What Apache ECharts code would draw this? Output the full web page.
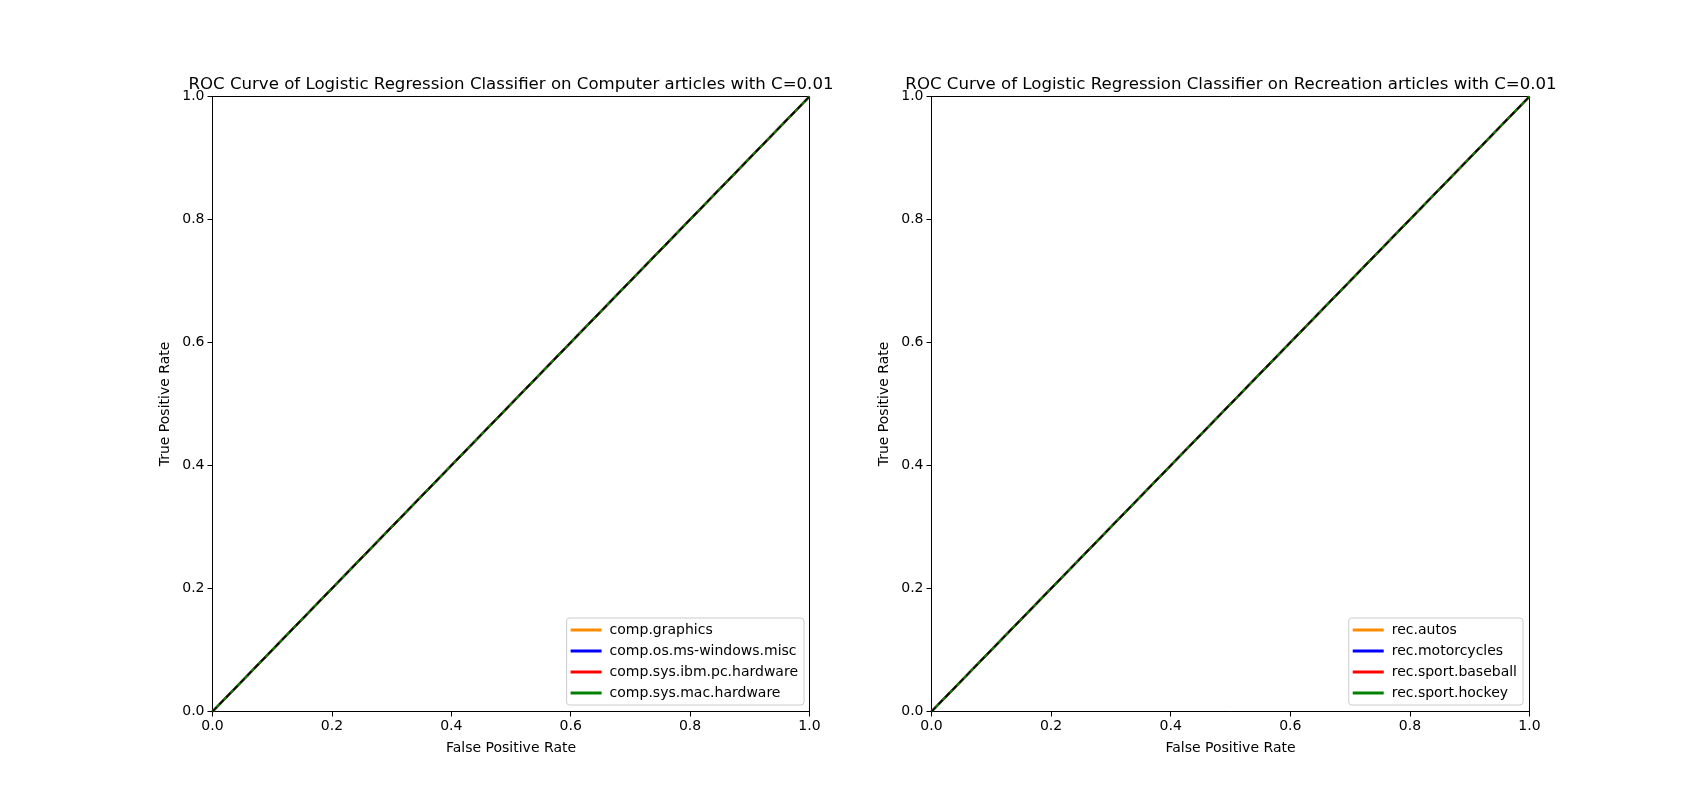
<!DOCTYPE html>
<html>
<head>
<meta charset="utf-8">
<script src="https://cdn.jsdelivr.net/npm/echarts@6/dist/echarts.min.js"></script>
<style>
  html, body { margin: 0; padding: 0; background: #fff; }
  #chart { width: 1700px; height: 800px; }
</style>
</head>
<body>
<div id="chart"></div>
<script>
// ROC curves: every class sits on the diagonal
const compClasses = ['comp.graphics', 'comp.os.ms-windows.misc', 'comp.sys.ibm.pc.hardware', 'comp.sys.mac.hardware'];
const recClasses = ['rec.autos', 'rec.motorcycles', 'rec.sport.baseball', 'rec.sport.hockey'];
const compFpr = [[0, 1], [0, 1], [0, 1], [0, 1]];
const compTpr = [[0, 1], [0, 1], [0, 1], [0, 1]];
const recFpr = [[0, 1], [0, 1], [0, 1], [0, 1]];
const recTpr = [[0, 1], [0, 1], [0, 1], [0, 1]];
const chanceLine = [[0, 0], [1, 1]];
const tickValues = [0, 0.2, 0.4, 0.6, 0.8, 1.0];
const titles = [
    'ROC Curve of Logistic Regression Classifier on Computer articles with C=0.01',
    'ROC Curve of Logistic Regression Classifier on Recreation articles with C=0.01',
];

const colors = ['#ff8c00', '#0000ff', '#ff0000', '#008000'];
const font = 'DejaVu Sans';

const chart = echarts.init(document.getElementById('chart'));

function makeAxis(grid, name, gap) {
    return {
        type: 'value',
        gridIndex: grid,
        min: tickValues[0],
        max: tickValues[tickValues.length - 1],
        interval: 0.2,
        name: name,
        nameLocation: 'middle',
        nameGap: gap,
        nameTextStyle: { color: '#000', fontFamily: font, fontSize: 14 },
        axisLine: { show: true, onZero: false, lineStyle: { color: '#000', width: 1 } },
        axisTick: { show: true, length: 5, lineStyle: { color: '#000' } },
        axisLabel: {
            color: '#000', fontFamily: font, fontSize: 14, margin: 8,
            formatter: v => v.toFixed(1),
        },
        splitLine: { show: false },
    };
}

function makeSeries(names, fpr, tpr, grid) {
    const out = names.map((n, i) => ({
        name: n,
        type: 'line',
        xAxisIndex: grid,
        yAxisIndex: grid,
        data: fpr[i].map((x, j) => [x, tpr[i][j]]),
        showSymbol: false,
        lineStyle: { color: colors[i], width: 2.2 },
        itemStyle: { color: colors[i] },
        animation: false,
    }));
    out.push({
        name: 'chance' + grid,
        type: 'line',
        xAxisIndex: grid,
        yAxisIndex: grid,
        data: chanceLine,
        showSymbol: false,
        lineStyle: { color: '#000', width: 1.5, type: [6, 4] },
        animation: false,
        z: 5,
    });
    return out;
}

function makeLegend(names, right) {
    return {
        data: names,
        orient: 'vertical',
        right: right,
        top: 618,
        align: 'left',
        icon: 'rect',
        itemWidth: 31,
        itemHeight: 3,
        itemGap: 7,
        padding: [5, 6, 5, 4],
        backgroundColor: '#fff',
        borderColor: '#cccccc',
        borderWidth: 1,
        borderRadius: 3,
        textStyle: { color: '#000', fontFamily: font, fontSize: 14, padding: [0, 0, 0, 3] },
    };
}

const option = {
    backgroundColor: '#fff',
    animation: false,
    title: [
        { text: titles[0], left: 511, top: 76, textAlign: 'center', padding: 0,
          textStyle: { color: '#000', fontFamily: font, fontSize: 16.6, fontWeight: 'normal' } },
        { text: titles[1], left: 1231, top: 76, textAlign: 'center', padding: 0,
          textStyle: { color: '#000', fontFamily: font, fontSize: 16.6, fontWeight: 'normal' } },
    ],
    grid: [
        { left: 212.5, top: 96.5, width: 597, height: 615, show: true, borderColor: '#000', borderWidth: 1, containLabel: false },
        { left: 931.5, top: 96.5, width: 598, height: 615, show: true, borderColor: '#000', borderWidth: 1, containLabel: false },
    ],
    xAxis: [makeAxis(0, 'False Positive Rate', 30), makeAxis(1, 'False Positive Rate', 30)],
    yAxis: [makeAxis(0, 'True Positive Rate', 40), makeAxis(1, 'True Positive Rate', 40)],
    legend: [makeLegend(compClasses, 896), makeLegend(recClasses, 177)],
    series: [
        ...makeSeries(compClasses, compFpr, compTpr, 0),
        ...makeSeries(recClasses, recFpr, recTpr, 1),
    ],
};

chart.setOption(option);
</script>
</body>
</html>
